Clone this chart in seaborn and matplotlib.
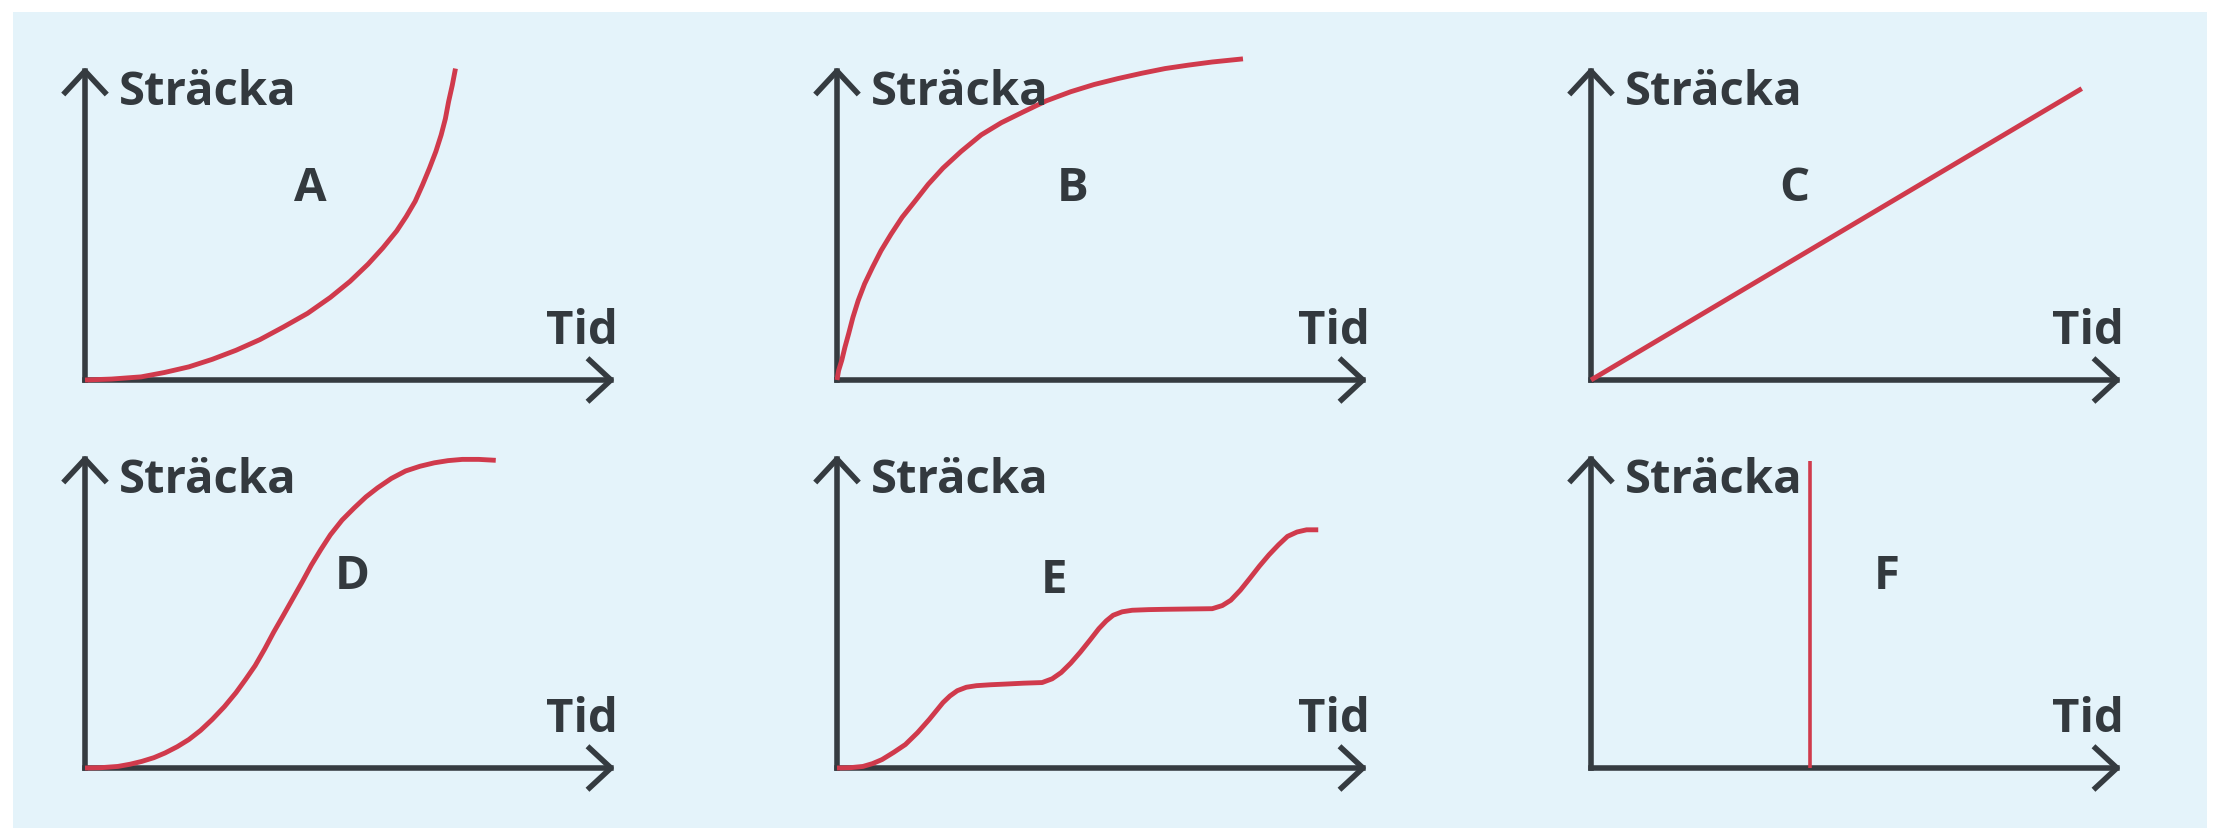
import matplotlib
matplotlib.use("Agg")
import matplotlib.pyplot as plt
from matplotlib.patches import Rectangle
import seaborn as sns

# --- data: time / distance (axis units 0..10) ---
a_time = [0, 0.5, 1.06, 1.5, 1.96, 2.4, 2.85, 3.3, 3.74, 4.2, 4.63, 5.0, 5.34, 5.62,
          5.88, 6.06, 6.23, 6.37, 6.50, 6.62, 6.72, 6.80, 6.86, 6.93, 6.99]
a_dist = [0, 0.03, 0.10, 0.24, 0.42, 0.66, 0.95, 1.29, 1.69, 2.13, 2.64, 3.15, 3.70, 4.22,
          4.76, 5.22, 5.71, 6.24, 6.77, 7.30, 7.83, 8.35, 8.89, 9.42, 9.95]

b_time = [0, 0.03, 0.09, 0.15, 0.22, 0.30, 0.40, 0.52, 0.67, 0.83, 1.02, 1.23, 1.47, 1.72,
          2.00, 2.34, 2.72, 3.10, 3.52, 3.95, 4.41, 4.85, 5.30, 5.75, 6.19, 6.63, 7.08, 7.37, 7.66]
b_dist = [0, 0.30, 0.63, 1.05, 1.48, 2.00, 2.54, 3.07, 3.60, 4.13, 4.66, 5.20, 5.71, 6.25,
          6.77, 7.30, 7.83, 8.22, 8.57, 8.92, 9.21, 9.44, 9.63, 9.80, 9.95, 10.06, 10.16, 10.21, 10.26]

c_time = [0, 9.26]
c_dist = [0, 9.31]

d_time = [0, 0.30, 0.62, 0.85, 1.07, 1.30, 1.51, 1.74, 1.96, 2.18, 2.40, 2.63, 2.85, 3.03,
          3.21, 3.39, 3.56, 3.74, 3.92, 4.10, 4.27, 4.45, 4.63, 4.85, 5.08, 5.30, 5.52, 5.78,
          6.05, 6.32, 6.59, 6.85, 7.12, 7.43, 7.75]
d_dist = [0, 0.01, 0.05, 0.12, 0.21, 0.33, 0.48, 0.68, 0.91, 1.20, 1.55, 1.96, 2.41, 2.83,
          3.27, 3.80, 4.34, 4.87, 5.41, 5.95, 6.48, 6.98, 7.45, 7.92, 8.31, 8.66, 8.95, 9.25,
          9.49, 9.64, 9.75, 9.82, 9.86, 9.86, 9.83]

e_time = [0, 0.25, 0.49, 0.67, 0.85, 1.07, 1.29, 1.52, 1.74, 1.87, 2.00, 2.13, 2.27, 2.44,
          2.63, 2.90, 3.16, 3.52, 3.87, 4.06, 4.23, 4.41, 4.59, 4.77, 4.94, 5.08, 5.21, 5.38,
          5.57, 5.88, 6.19, 6.63, 7.08, 7.27, 7.43, 7.61, 7.79, 7.97, 8.15, 8.33, 8.50, 8.68,
          8.86, 8.97, 9.08]
e_dist = [0, 0.01, 0.05, 0.14, 0.27, 0.50, 0.75, 1.13, 1.55, 1.82, 2.09, 2.30, 2.47, 2.58,
          2.63, 2.66, 2.68, 2.71, 2.73, 2.85, 3.05, 3.35, 3.70, 4.08, 4.45, 4.70, 4.88, 4.99,
          5.04, 5.06, 5.07, 5.08, 5.09, 5.19, 5.36, 5.68, 6.06, 6.45, 6.81, 7.13, 7.40, 7.54,
          7.61, 7.61, 7.61]

f_time = [4.14, 4.14]
f_dist = [0, 9.81]

letters = ["A", "B", "C", "D", "E", "F"]
series = [(a_time, a_dist), (b_time, b_dist), (c_time, c_dist),
          (d_time, d_dist), (e_time, e_dist), (f_time, f_dist)]
letter_pos = [(4.26, 6.13), (4.45, 6.13), (3.83, 6.13),
              (5.04, 6.11), (4.09, 5.98), (5.57, 6.11)]
y_label = "Sträcka"
x_label = "Tid"

# --- style ---
BG = "#e4f3fa"
RED = "#d03a4c"
AXIS = "#353b40"
TEXT = "#33393e"

sns.set_theme(style="white")
plt.rcParams["font.family"] = ["Open Sans", "DejaVu Sans"]

W, H = 2221, 840
fig = plt.figure(figsize=(W / 100, H / 100), dpi=100)
fig.patch.set_facecolor("white")
# light blue card behind the six sketches
card = Rectangle((13 / W, 12 / H), (2207 - 13) / W, (828 - 12) / H,
                 transform=fig.transFigure, facecolor=BG, edgecolor="none",
                 zorder=-10)
fig.add_artist(card)

col_x = [85, 837, 1591]      # origin x in pixels
row_y = [380, 768]           # origin y in pixels (from top)
ax_w, ax_h = 530, 313

for i, (letter, (t, s), (lx, ly)) in enumerate(zip(letters, series, letter_pos)):
    ox = col_x[i % 3]
    oy = row_y[i // 3]
    ax = fig.add_axes([ox / W, 1 - oy / H, ax_w / W, ax_h / H])
    ax.patch.set_alpha(0)

    # axes drawn as arrows
    arrow = dict(arrowstyle="->,head_length=0.7,head_width=0.65", lw=4.0,
                 color=AXIS, shrinkA=0, shrinkB=0, mutation_scale=22,
                 capstyle="projecting")
    ax.annotate("", xy=(10, 0), xytext=(0, 0), arrowprops=arrow,
                annotation_clip=False, zorder=2)
    ax.annotate("", xy=(0, 10), xytext=(0, 0), arrowprops=arrow,
                annotation_clip=False, zorder=2)

    lw = 2.6 if letter == "F" else 3.5
    sns.lineplot(x=t, y=s, ax=ax, color=RED, linewidth=lw,
                 estimator=None, sort=False, zorder=3)
    for line in ax.lines:
        line.set_clip_on(False)
        line.set_solid_capstyle("butt")
        line.set_solid_joinstyle("round")

    ax.text(0.64, 8.8, y_label, fontsize=34, fontweight="bold", color=TEXT,
            ha="left", va="baseline")
    ax.text(10.05, 1.15, x_label, fontsize=34, fontweight="bold", color=TEXT,
            ha="right", va="baseline")
    ax.text(lx, ly, letter, fontsize=34, fontweight="bold", color=TEXT,
            ha="center", va="center")

    ax.set_xlim(0, 10)
    ax.set_ylim(0, 10)
    ax.axis("off")

fig.savefig("out.png", dpi=100, facecolor=fig.get_facecolor())
